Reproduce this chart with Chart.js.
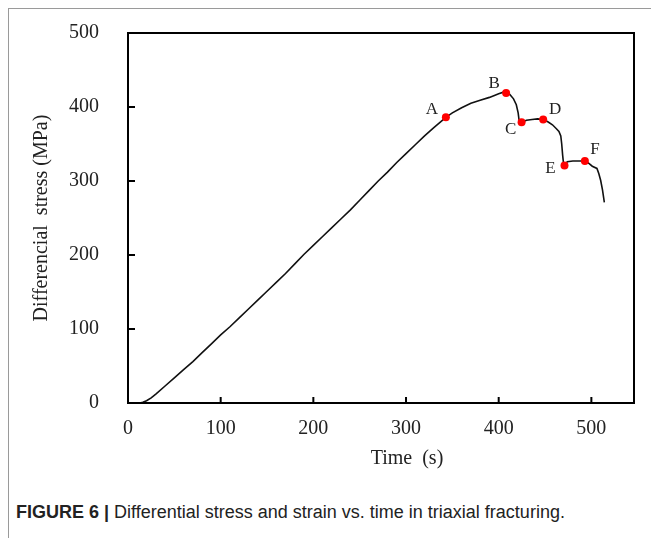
<!DOCTYPE html>
<html>
<head>
<meta charset="utf-8">
<script src="https://cdn.jsdelivr.net/npm/chart.js@4.4.1/dist/chart.umd.min.js"></script>
<style>
  body { margin: 0; background: #fff; width: 651px; height: 538px; overflow: hidden; position: relative; }
  #frame { position: absolute; left: 8px; top: 8px; width: 700px; height: 600px; border-top: 1px solid #9a9a9a; border-left: 1px solid #9a9a9a; }
  #wrap { position: absolute; left: 0; top: 0; width: 651px; height: 480px; }
  #caption { position: absolute; left: 16px; top: 502px; font-family: "Liberation Sans", Arial, sans-serif; font-size: 18px; color: #222; white-space: nowrap; }
  #caption b { font-weight: bold; }
</style>
</head>
<body>
<div id="frame"></div>
<div id="wrap"><canvas id="stressChart" width="651" height="480"></canvas></div>
<div id="caption"><b>FIGURE 6 |</b> Differential stress and strain vs. time in triaxial fracturing.</div>
<script>
// curve: time (s) and differential stress (MPa)
const timeValues = [13, 16, 20, 25, 30, 40, 50, 60, 70, 80, 90, 100, 110, 120, 130, 140, 150, 160, 170, 180,
  190, 200, 210, 220, 230, 240, 250, 260, 270, 280, 290, 300, 310, 320, 330, 343, 350, 360, 370, 380,
  390, 400, 405, 408, 412, 416, 419, 421, 422, 423, 424.7, 430, 436, 442, 448, 453, 458, 462, 465, 467,
  468, 469, 470, 471, 474, 480, 487, 493, 497, 501, 506, 508, 510, 512, 514];
const stressValues = [0, 1, 3, 7, 12, 23, 34, 45, 56, 68, 80, 92, 103, 115, 127, 139, 151, 163, 175, 188,
  201, 213, 225, 237, 249, 261, 274, 287, 300, 312, 325, 337, 349, 361, 372, 386, 392, 399, 405, 409,
  413, 418, 420, 419, 417, 411, 403, 392, 382, 379, 379.5, 382, 383, 384, 383, 380, 376, 371, 367, 361,
  350, 335, 323, 321, 326, 327, 327, 327, 324, 320, 317, 310, 301, 288, 271];

// marked points A-F
const markLabels = ['A', 'B', 'C', 'D', 'E', 'F'];
const markTimes = [343, 408, 424.7, 448, 471, 493];
const markStress = [386, 419, 379.5, 383, 321, 327];

// axis ticks
const xTicks = [0, 100, 200, 300, 400, 500];
const yTicks = [0, 100, 200, 300, 400, 500];

// where each letter sits relative to its dot (px)
const labelOffsets = [[-14, -8], [-12, -9], [-11, 7], [12, -10], [-14, 3], [10, -11]];

const serif = '"Liberation Serif", "Times New Roman", serif';

const curve = timeValues.map((t, i) => ({ x: t, y: stressValues[i] }));
const marks = markTimes.map((t, i) => ({ x: t, y: markStress[i] }));

// frame box, inward ticks, x title and point letters
const framePlugin = {
  id: 'framePlugin',
  afterDraw(chart) {
    const ctx = chart.ctx;
    const a = chart.chartArea;
    const xs = chart.scales.x, ys = chart.scales.y;
    ctx.save();
    ctx.strokeStyle = '#000';
    ctx.lineWidth = 2;
    ctx.strokeRect(a.left, a.top, a.right - a.left, a.bottom - a.top);
    ctx.beginPath();
    xTicks.forEach(v => {
      const px = xs.getPixelForValue(v);
      ctx.moveTo(px, a.bottom);
      ctx.lineTo(px, a.bottom - 6);
    });
    yTicks.forEach(v => {
      const py = ys.getPixelForValue(v);
      ctx.moveTo(a.left, py);
      ctx.lineTo(a.left + 7, py);
    });
    ctx.stroke();

    ctx.fillStyle = '#222';
    ctx.textAlign = 'center';
    ctx.textBaseline = 'middle';
    ctx.font = '20px ' + serif;
    ctx.fillText('Time  (s)', 407, 459);

    ctx.font = '17px ' + serif;
    markLabels.forEach((lab, i) => {
      const px = xs.getPixelForValue(markTimes[i]) + labelOffsets[i][0];
      const py = ys.getPixelForValue(markStress[i]) + labelOffsets[i][1];
      ctx.fillText(lab, px, py);
    });
    ctx.restore();
  }
};

document.addEventListener('DOMContentLoaded', function () {
  const ctx = document.getElementById('stressChart').getContext('2d');

  new Chart(ctx, {
    type: 'scatter',
    data: {
      datasets: [{
        label: 'points',
        data: marks,
        showLine: false,
        pointRadius: 4,
        pointBackgroundColor: '#ff0000',
        pointBorderColor: '#ff0000',
        pointBorderWidth: 0
      }, {
        label: 'stress',
        data: curve,
        showLine: true,
        borderColor: '#111',
        borderWidth: 1.6,
        pointRadius: 0,
        tension: 0
      }]
    },
    options: {
      responsive: false,
      animation: false,
      layout: { padding: { top: 33, right: 17, left: 0, bottom: 0 } },
      plugins: { legend: { display: false }, tooltip: { enabled: false } },
      scales: {
        x: {
          type: 'linear',
          min: 0,
          max: 546,
          afterBuildTicks: axis => { axis.ticks = xTicks.map(v => ({ value: v })); },
          afterFit: axis => { axis.height = 77; },
          grid: { display: false, drawTicks: false },
          border: { display: false },
          ticks: { padding: 14, color: '#222', font: { family: serif, size: 20 }, maxRotation: 0 },
          title: { display: false }
        },
        y: {
          min: 0,
          max: 500,
          afterBuildTicks: axis => { axis.ticks = yTicks.map(v => ({ value: v })); },
          afterFit: axis => { axis.width = 128; axis.paddingTop = 0; axis.paddingBottom = 0; },
          grid: { display: false, drawTicks: false },
          border: { display: false },
          ticks: { padding: 29, color: '#222', font: { family: serif, size: 20 } },
          title: { display: true, text: 'Differencial  stress (MPa)', color: '#222', font: { family: serif, size: 20 }, padding: { top: 30, bottom: 0 } }
        }
      }
    },
    plugins: [framePlugin]
  });
});
</script>
</body>
</html>
